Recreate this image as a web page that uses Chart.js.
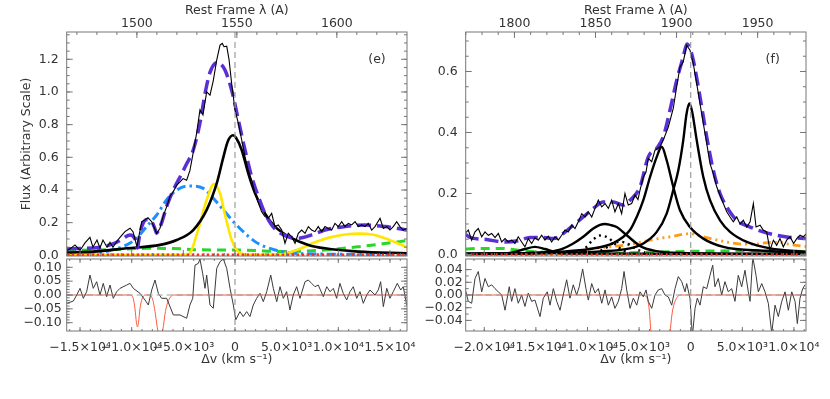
<!DOCTYPE html>
<html>
<head>
<meta charset="utf-8">
<script src="https://cdn.jsdelivr.net/npm/chart.js@4.4.1/dist/chart.umd.min.js"></script>
<style>
  html, body { margin: 0; padding: 0; background: #fff; }
  #wrap { position: relative; width: 830px; height: 399px; overflow: hidden; }
  canvas { position: absolute; }
</style>
</head>
<body>
<div id="wrap">
  <canvas id="upE" width="428" height="260" style="left:0px;top:0px"></canvas>
  <canvas id="loE" width="428" height="143" style="left:0px;top:256px"></canvas>
  <canvas id="upF" width="415" height="260" style="left:415px;top:0px"></canvas>
  <canvas id="loF" width="415" height="143" style="left:415px;top:256px"></canvas>
</div>
<script>
const C_KMS = 299792.458;
const FONT = { family: "DejaVu Sans", size: 12.5 };
const TXT = "#333";

// ---------- panel (e) : C IV ----------
const lam0E = 1549.06;
const vRangeE = [-16290, 16650];
const fluxRangeE = [-0.004, 1.367];
const resRangeE = [-0.13, 0.13];
const lamTicksE = [1500, 1550, 1600];
const vTicksE = [-15000, -10000, -5000, 0, 5000, 10000, 15000];
const fluxTicksE = [0, 0.2, 0.4, 0.6, 0.8, 1.0, 1.2];
const resTicksE = [-0.1, -0.05, 0, 0.05, 0.1];

const obsVE = [-16260,-15970,-15490,-15000,-14520,-14040,-13750,-13360,-13070,-12780,
  -12390,-12100,-11810,-11420,-11130,-10650,-10160,-9870,-9490,-9030,
  -8710,-8420,-8060,-7580,-7260,-6970,-6610,-6290,-5970,-5640,
  -5320,-5030,-4680,-4360,-4040,-3710,-3390,-3100,-2740,-2420,
  -2100,-1770,-1450,-1230,-1060,-800,-580,-320,0,320,
  650,970,1290,1620,1940,2260,2580,2900,3220,3550,
  3870,4190,4520,4840,5160,5490,5810,6130,6460,6780,
  7100,7420,7740,8060,8390,8710,9030,9360,9680,10000,
  10330,10650,10970,11300,11620,11940,12270,12580,12900,13230,
  13550,14040,14360,14690,15000,15320,15650,15970,16290,16620];
const obsFE = [0.03,0.04,0.064,0.03,0.076,0.11,0.05,0.094,0.045,0.094,
  0.05,0.08,0.05,0.088,0.11,0.145,0.166,0.145,0.053,0.206,
  0.217,0.23,0.206,0.135,0.166,0.237,0.298,0.36,0.39,0.43,
  0.45,0.47,0.46,0.52,0.63,0.75,0.89,0.86,1.0,0.98,
  1.07,1.195,1.287,1.297,1.277,1.28,1.2,1.05,0.89,0.81,
  0.706,0.604,0.52,0.46,0.38,0.32,0.267,0.237,0.227,0.257,
  0.176,0.186,0.155,0.074,0.135,0.114,0.074,0.135,0.155,0.135,
  0.176,0.155,0.145,0.176,0.145,0.176,0.165,0.155,0.196,0.176,
  0.206,0.176,0.196,0.186,0.206,0.176,0.186,0.176,0.196,0.155,
  0.176,0.227,0.165,0.176,0.155,0.176,0.206,0.176,0.155,0.165];

const totVE = [-16260,-13070,-12100,-11450,-10810,-10160,-9680,-9460,-9240,-9030,
  -8550,-8060,-7790,-7580,-7360,-7100,-6610,-5970,-5320,-4680,
  -4040,-3390,-2900,-2420,-1940,-1700,-1450,-970,-320,320,
  970,1620,2260,2900,3550,4190,5160,6130,7420,8710,
  10650,12580,14520,16650];
const totFE = [0.04,0.05,0.064,0.08,0.105,0.125,0.1,0.045,0.12,0.176,
  0.22,0.206,0.17,0.135,0.16,0.2,0.3,0.4,0.48,0.56,
  0.645,0.81,0.99,1.12,1.175,1.18,1.175,1.134,1.01,0.83,
  0.645,0.48,0.36,0.257,0.186,0.145,0.114,0.105,0.125,0.155,
  0.176,0.186,0.176,0.155];

const civVE = [-16260,-13720,-10480,-7260,-5640,-4040,-2740,-1770,-1130,-680,
  -190,100,650,1290,1940,2900,3870,5490,7100,8710,11940,16650];
const civFE = [0.017,0.023,0.043,0.064,0.094,0.155,0.278,0.44,0.6,0.70,
  0.735,0.72,0.645,0.50,0.38,0.257,0.176,0.105,0.064,0.043,0.023,0.013];

const broadVE = [-16260,-14040,-12100,-10480,-9520,-8550,-7580,-6610,-5640,-4680,
  -4040,-3070,-2100,-1130,0,970,1940,2900,3870,4840,6290,16650];
const broadFE = [0.005,0.008,0.03,0.064,0.105,0.176,0.247,0.34,0.40,0.424,
  0.424,0.41,0.35,0.278,0.196,0.135,0.084,0.053,0.033,0.02,0.01,0.005];

const yelVE = [-16260,-5500,-4520,-4200,-3390,-2740,-2030,-1450,-970,-320,
  160,650,1500,3500,4840,6290,7740,9200,10650,12100,
  13260,14520,15490,16650];
const yelFE = [0.003,0.003,0.005,0.033,0.196,0.34,0.437,0.38,0.25,0.094,
  0.033,0.01,0.004,0.004,0.01,0.04,0.08,0.11,0.128,0.133,
  0.128,0.105,0.08,0.05];

const grnVE = [-16260,-12000,-8500,-6000,-4000,-2000,0,2000,4000,5500,
  8700,12000,14500,16650];
const grnFE = [0.03,0.035,0.043,0.042,0.035,0.033,0.033,0.03,0.024,0.024,
  0.033,0.053,0.072,0.09];

const zeroVE = [-16290, 16650];
const zeroFE = [0, 0];

const resVE = [-16290,-15650,-15320,-15000,-14680,-14360,-14040,-13720,-13390,-13070,
  -12750,-12420,-12100,-11780,-11450,-11130,-10480,-10160,-9840,-9200,
  -8710,-8390,-8060,-7740,-7420,-7100,-6610,-5970,-5320,-4680,
  -4360,-4090,-3870,-3550,-3390,-3130,-2900,-2740,-2420,-2100,
  -1770,-1450,-1130,-800,-480,-160,70,480,800,1130,
  1450,1770,2100,2420,2740,3070,3460,3710,4040,4360,
  4680,5000,5320,5640,5970,6290,6780,7100,7420,7740,
  8060,8550,8880,9200,9520,9840,10160,10480,10810,11130,
  11450,11780,12100,12420,12750,13070,13550,13870,14100,14360,
  14690,15000,15320,15710,16040,16290,16620];
const resFE = [-0.03,-0.022,0,0.024,-0.012,0.012,0.072,0.024,0.048,0,
  0.042,-0.006,0.036,-0.012,0.012,0.024,0.036,0.042,0.024,0.006,
  -0.018,-0.036,0.018,0.054,0.006,-0.012,-0.012,-0.072,-0.072,-0.084,
  -0.036,-0.012,0.108,0.114,0.13,0.078,0.024,0.072,-0.036,-0.048,
  0.096,0.12,0.13,0.096,0.024,-0.036,-0.09,-0.06,-0.078,-0.06,
  -0.078,-0.036,-0.012,0.006,-0.024,0.012,0.072,0.024,-0.024,0.03,
  -0.012,0.012,-0.054,0,0.03,-0.012,0.048,0.054,0.042,0.03,
  0.036,-0.006,0.03,0.012,0.024,-0.012,0.042,0.006,-0.018,0.012,
  0.03,-0.012,0.012,-0.03,0,0.018,0,0.018,0.048,-0.042,
  0.024,-0.012,0.012,0.042,0.018,0.03,-0.036];

const absVE = [-16290,-10160,-9870,-9680,-9540,-9440,-9340,-9200,-9000,-8710,
  -8230,-7940,-7740,-7550,-7410,-7260,-7070,-6920,-6780,-6580,
  -6290,-5970,16620];
const absFE = [0,0,-0.01,-0.05,-0.10,-0.115,-0.10,-0.05,-0.015,0,
  0,-0.02,-0.06,-0.11,-0.14,-0.16,-0.14,-0.11,-0.07,-0.035,
  -0.01,0,0];

// ---------- panel (f) : C III] ----------
const lam0F = 1908.73;
const vRangeF = [-21800, 11170];
const fluxRangeF = [-0.005, 0.7295];
const resRangeF = [-0.0567, 0.0567];
const lamTicksF = [1800, 1850, 1900, 1950];
const vTicksF = [-20000, -15000, -10000, -5000, 0, 5000, 10000];
const fluxTicksF = [0, 0.2, 0.4, 0.6];
const resTicksF = [-0.04, -0.02, 0, 0.02, 0.04];

const obsVF = [-21870,-21550,-21220,-20900,-20580,-20250,-19930,-19610,-19280,-18960,
  -18640,-18310,-17990,-17670,-17350,-17030,-16710,-16380,-16060,-15740,
  -15410,-15090,-14770,-14440,-14120,-13800,-13470,-13150,-12830,-12500,
  -12180,-11860,-11530,-11210,-10890,-10560,-10240,-9920,-9590,-9270,
  -8950,-8620,-8300,-7980,-7660,-7340,-7010,-6690,-6370,-6050,
  -5720,-5400,-5110,-4910,-4590,-4330,-4110,-3780,-3460,-2970,
  -2660,-2170,-1690,-1360,-1040,-720,-390,-70,250,580,
  900,1220,1550,1870,2190,2520,2840,3160,3490,3810,
  4130,4460,4780,5100,5430,5750,6070,6330,6720,7030,
  7360,7680,8010,8330,8650,8970,9300,9620,9970,10270,
  10590,10910,11240];
const obsFF = [0.069,0.08,0.047,0.074,0.085,0.058,0.074,0.063,0.069,0.055,
  0.069,0.041,0.052,0.041,0.047,0.036,0.058,0.041,0.025,0.052,
  0.036,0.055,0.047,0.063,0.047,0.06,0.041,0.058,0.047,0.063,
  0.08,0.074,0.096,0.085,0.107,0.134,0.123,0.14,0.123,0.151,
  0.178,0.156,0.167,0.151,0.178,0.14,0.167,0.134,0.2,0.162,
  0.167,0.195,0.18,0.211,0.254,0.27,0.315,0.304,0.342,0.353,
  0.375,0.418,0.479,0.55,0.615,0.632,0.686,0.67,0.626,0.56,
  0.495,0.43,0.364,0.298,0.265,0.222,0.194,0.167,0.14,0.123,
  0.107,0.123,0.1,0.112,0.09,0.107,0.167,0.09,0.096,0.08,
  0.074,0.014,0.047,0.03,0.052,0.025,0.047,0.058,0.036,0.052,
  0.063,0.058,0.069];

const totVF = [-21800,-21390,-19770,-18160,-16710,-15570,-14280,-13310,-12350,-11380,
  -10410,-9440,-8470,-7500,-6530,-5880,-4910,-4110,-3290,-2660,
  -2010,-1360,-720,-360,-70,250,900,1550,2190,2840,
  3490,4460,5750,7030,8330,9620,11240];
const totFF = [0.066,0.056,0.049,0.041,0.045,0.056,0.056,0.052,0.069,0.096,
  0.123,0.151,0.172,0.172,0.162,0.178,0.222,0.32,0.348,0.386,
  0.473,0.571,0.648,0.69,0.675,0.637,0.517,0.386,0.276,0.2,
  0.156,0.112,0.09,0.074,0.063,0.056,0.052];

const ciiiVF = [-21800,-12660,-8790,-5880,-4590,-3290,-2330,-1690,-1200,-720,
  -410,-140,130,580,1220,1870,2840,3810,5430,7680,11240];
const ciiiFF = [0.002,0.005,0.01,0.02,0.036,0.074,0.134,0.211,0.276,0.375,
  0.46,0.495,0.47,0.375,0.254,0.178,0.112,0.074,0.041,0.02,0.009];

const siiiiVF = [-21800,-15570,-12660,-9760,-7530,-5880,-5230,-4590,-3940,-3290,
  -2810,-2330,-1690,-1040,-70,1220,3160,7030,11240];
const siiiiFF = [0.003,0.005,0.009,0.018,0.037,0.08,0.123,0.178,0.254,0.32,
  0.353,0.309,0.222,0.145,0.09,0.052,0.025,0.012,0.006];

const aliiiVF = [-21800,-14280,-12660,-11380,-10410,-9440,-8790,-8300,-7820,-7170,
  -6200,-4750,-3460,-1040,11240];
const aliiiFF = [0.002,0.007,0.016,0.036,0.058,0.085,0.097,0.1,0.097,0.09,
  0.063,0.025,0.012,0.005,0.002];

const siiiVF = [-21800,-17990,-17030,-16060,-15090,-14120,-13150,-12180,11240];
const siiiFF = [0.001,0.003,0.008,0.018,0.025,0.018,0.008,0.003,0.001];

const dot1VF = [-11210,-10240,-9560,-8790,-8010,-7340,-6660,-5880];
const dot1FF = [0.005,0.02,0.045,0.062,0.055,0.035,0.015,0.005];
const dot2VF = [-9270,-8300,-7630,-6850,-6080,-5300,-4430];
const dot2FF = [0.005,0.02,0.035,0.042,0.035,0.018,0.006];

const feVF = [-21800,-12660,-11530,-9760,-7330,-5880,-3940,-2010,-70,1550,
  3160,5100,6230,7200,8460,9620,11240];
const feFF = [0.0,0.002,0.008,0.018,0.027,0.033,0.047,0.058,0.068,0.055,
  0.043,0.034,0.034,0.038,0.04,0.033,0.026];

const grnVF = [-21800,-20420,-18480,-16540,-14600,-11700,-6850,-2980,900,5750,11240];
const grnFF = [0.018,0.02,0.02,0.013,0.008,0.005,0.005,0.008,0.011,0.012,0.01];

const zeroVF = [-21800, 11170];
const zeroFF = [0, 0];

const resVF = [-21870,-21550,-21220,-20900,-20580,-20250,-19930,-19610,-19280,-18960,
  -18640,-18310,-17990,-17580,-17350,-17030,-16710,-16380,-16060,-15740,
  -15410,-15090,-14600,-14280,-13900,-13630,-13310,-12980,-12660,-12350,
  -12020,-11700,-11380,-11050,-10800,-10470,-10150,-9920,-9590,-9270,
  -8950,-8620,-8300,-7980,-7660,-7340,-7010,-6690,-6460,-6200,
  -5880,-5560,-5230,-4910,-4590,-4330,-4110,-3780,-3460,-3140,
  -2810,-2490,-2170,-1840,-1520,-1200,-870,-550,-390,-70,
  160,420,640,900,1220,1550,1870,2130,2350,2670,
  3000,3320,3640,3970,4290,4610,4940,5260,5580,5750,
  6010,6330,6550,6880,7200,7520,7850,8170,8490,8820,
  9140,9460,9790,10110,10330,10590,10850,11080];
const resFF = [0.011,-0.01,-0.013,0.026,0.037,0.005,0.026,0.013,0.016,0.01,
  0.005,0,-0.024,0.013,-0.01,0.01,-0.013,0,-0.018,0.003,
  -0.01,-0.008,-0.034,-0.005,0.005,-0.016,0.01,-0.01,-0.024,0,
  0.024,-0.005,0.016,0,0.013,0.041,0.01,-0.008,0.018,0.003,
  0.01,-0.013,0.008,-0.016,-0.003,-0.021,-0.01,0.01,0.037,0.008,
  -0.021,-0.005,-0.016,0.005,-0.003,0.008,-0.01,-0.021,0,0.008,
  0.01,0,-0.003,-0.016,0.01,0.029,0.021,0.005,0.018,-0.005,
  -0.065,-0.021,-0.005,-0.016,0.013,0.01,0.031,0.047,0.013,0.026,
  0,0.021,0.005,0.01,-0.01,0.031,0.013,0.039,0.005,-0.01,
  0.06,0.031,0.005,0.018,0.005,-0.013,-0.06,-0.016,-0.034,-0.01,
  0.005,-0.024,0.005,-0.01,-0.045,-0.005,0.01,0.016];

const absVF = [-21800,-4910,-4330,-4040,-3850,-3650,-2970,-2300,-2010,-1810,
  -1620,-1330,-1040,11240];
const absFF = [0,0,-0.002,-0.02,-0.06,-0.1,-0.15,-0.1,-0.06,-0.03,
  -0.015,-0.004,0,0];

// ---------- helpers ----------
function steps(a, b, st) {
  const out = [];
  for (let v = a; v <= b + st * 1e-6; v += st) out.push(Math.round(v / st) * st);
  return out;
}
function minus(s) { return s.replace('-', '\u2212'); }
function sciLabel(v) {
  if (v === 0) return '0';
  const a = Math.abs(v);
  const e = Math.floor(Math.log10(a));
  const sup = { 3: '\u00b3', 4: '\u2074' }[e];
  return (v < 0 ? '\u2212' : '') + (a / Math.pow(10, e)).toFixed(1) + '\u00d710' + sup;
}
function line(vs, fs, color, width, dash, smooth) {
  return {
    data: vs.map((v, i) => ({ x: v, y: fs[i] })),
    borderColor: color, borderWidth: width, borderDash: dash || [],
    pointRadius: 0, fill: false, tension: 0,
    cubicInterpolationMode: smooth ? 'monotone' : 'default'
  };
}
const noPad = s => { s.paddingLeft = 0; s.paddingRight = 0; s.paddingTop = 0; s.paddingBottom = 0; };

// frame, inward ticks, dashed zero guides and the panel tag
const idl = {
  id: 'idl',
  afterDatasetsDraw(chart, args, o) {
    const { ctx, chartArea: a, scales } = chart;
    ctx.save();
    ctx.beginPath(); ctx.rect(a.left, a.top, a.width, a.height); ctx.clip();
    ctx.strokeStyle = '#9c9c9c'; ctx.lineWidth = 1.2; ctx.setLineDash([6, 4]);
    ctx.beginPath();
    const x0 = scales.x.getPixelForValue(0);
    ctx.moveTo(x0, a.top); ctx.lineTo(x0, a.bottom);
    if (o.zeroLine) {
      const y0 = scales.y.getPixelForValue(0);
      ctx.moveTo(a.left, y0); ctx.lineTo(a.right, y0);
    }
    ctx.stroke();
    ctx.restore();
  },
  afterDraw(chart, args, o) {
    const { ctx, chartArea: a, scales } = chart;
    ctx.save();
    ctx.strokeStyle = '#777'; ctx.lineWidth = 1;
    ctx.strokeRect(a.left, a.top, a.width, a.height);
    (o.marks || []).forEach(m => {
      const s = scales[m.scale];
      ctx.beginPath();
      m.values.forEach(v => {
        const p = s.getPixelForValue(v);
        if (s.isHorizontal()) {
          if (p < a.left || p > a.right) return;
          m.sides.forEach(side => {
            const y = side === 'top' ? a.top : a.bottom;
            ctx.moveTo(p, y); ctx.lineTo(p, side === 'top' ? y + m.len : y - m.len);
          });
        } else {
          if (p < a.top || p > a.bottom) return;
          m.sides.forEach(side => {
            const x = side === 'left' ? a.left : a.right;
            ctx.moveTo(x, p); ctx.lineTo(side === 'left' ? x + m.len : x - m.len, p);
          });
        }
      });
      ctx.stroke();
    });
    if (o.tag) {
      ctx.fillStyle = TXT;
      ctx.font = FONT.size + 'px "' + FONT.family + '"';
      ctx.textAlign = 'center'; ctx.textBaseline = 'middle';
      ctx.fillText(o.tag.text, o.tag.x, o.tag.y);
    }
    ctx.restore();
  }
};

function upper(id, p) {
  const lamMin = p.lam0 * (1 + p.vRange[0] / C_KMS);
  const lamMax = p.lam0 * (1 + p.vRange[1] / C_KMS);
  return new Chart(document.getElementById(id), {
    type: 'line',
    data: { datasets: p.datasets },
    options: {
      responsive: false, animation: false, events: [],
      layout: { padding: { left: 0, top: 0, right: p.padRight, bottom: 4 } },
      plugins: {
        legend: { display: false }, tooltip: { enabled: false },
        idl: {
          tag: p.tag,
          marks: [
            { scale: 'xt', values: p.lamTicks, len: 6, sides: ['top'] },
            { scale: 'xt', values: steps(Math.ceil(lamMin / 10) * 10, lamMax, 10), len: 3, sides: ['top'] },
            { scale: 'x', values: p.vTicks, len: 6, sides: ['bottom'] },
            { scale: 'x', values: steps(Math.ceil(p.vRange[0] / 1000) * 1000, p.vRange[1], 1000), len: 3, sides: ['bottom'] },
            { scale: 'y', values: p.fluxTicks, len: 6, sides: ['left', 'right'] },
            { scale: 'y', values: steps(0, p.fluxRange[1], 0.05), len: 3, sides: ['left', 'right'] }
          ]
        }
      },
      scales: {
        x: { type: 'linear', min: p.vRange[0], max: p.vRange[1], display: false },
        xt: {
          type: 'linear', position: 'top', min: lamMin, max: lamMax,
          grid: { display: false, drawTicks: false }, border: { display: false },
          afterBuildTicks: s => { s.ticks = p.lamTicks.map(v => ({ value: v })); },
          afterFit: s => { s.height = 32; noPad(s); },
          ticks: { font: FONT, color: TXT, padding: 1, maxRotation: 0, minRotation: 0, autoSkip: false,
                   callback: v => String(v) },
          title: { display: true, text: 'Rest Frame \u03bb (A)', font: FONT, color: TXT, padding: { top: 3.5, bottom: 0 } }
        },
        y: {
          type: 'linear', position: 'left', min: p.fluxRange[0], max: p.fluxRange[1],
          grid: { display: false, drawTicks: false }, border: { display: false },
          afterBuildTicks: s => { s.ticks = p.fluxTicks.map(v => ({ value: v })); },
          afterFit: s => { s.width = p.axisW; noPad(s); },
          ticks: { font: FONT, color: TXT, padding: 8, autoSkip: false, callback: v => v.toFixed(1) },
          title: { display: !!p.yTitle, text: p.yTitle || '', font: FONT, color: TXT, padding: { top: 19.5, bottom: 0 } }
        }
      }
    },
    plugins: [idl]
  });
}

function lower(id, p) {
  return new Chart(document.getElementById(id), {
    type: 'line',
    data: { datasets: p.datasets },
    options: {
      responsive: false, animation: false, events: [],
      layout: { padding: { left: 0, top: 3, right: p.padRight, bottom: 0 } },
      plugins: {
        legend: { display: false }, tooltip: { enabled: false },
        idl: {
          zeroLine: true,
          marks: [
            { scale: 'x', values: p.vTicks, len: 4, sides: ['top', 'bottom'] },
            { scale: 'x', values: steps(Math.ceil(p.vRange[0] / 1000) * 1000, p.vRange[1], 1000), len: 2, sides: ['top', 'bottom'] },
            { scale: 'y', values: p.resTicks, len: 6, sides: ['left', 'right'] },
            { scale: 'y', values: steps(p.resTicks[0], p.resTicks[p.resTicks.length - 1], p.resMinor), len: 3, sides: ['left', 'right'] }
          ]
        }
      },
      scales: {
        x: {
          type: 'linear', position: 'bottom', min: p.vRange[0], max: p.vRange[1],
          grid: { display: false, drawTicks: false }, border: { display: false },
          afterBuildTicks: s => { s.ticks = p.vTicks.map(v => ({ value: v })); },
          afterFit: s => { s.height = 68; noPad(s); },
          ticks: { font: FONT, color: TXT, padding: 9, maxRotation: 0, minRotation: 0, autoSkip: false,
                   callback: v => sciLabel(v) },
          title: { display: true, text: '\u0394v (km s\u207b\u00b9)', font: FONT, color: TXT, padding: { top: 0, bottom: 32 } }
        },
        y: {
          type: 'linear', position: 'left', min: p.resRange[0], max: p.resRange[1],
          grid: { display: false, drawTicks: false }, border: { display: false },
          afterBuildTicks: s => { s.ticks = p.resTicks.map(v => ({ value: v })); },
          afterFit: s => { s.width = p.axisW; noPad(s); },
          ticks: { font: FONT, color: TXT, padding: p.labPad, autoSkip: false,
                   callback: v => minus((Math.abs(v) < 1e-9 ? 0 : v).toFixed(2)) }
        }
      }
    },
    plugins: [idl]
  });
}

const PURPLE = '#5a30d6', BLUE = '#1e8fff', YELLOW = '#ffe600', GREEN = '#2bd62b',
      ORANGE = '#ff9a1a', RED = '#ff2a1a', RES = '#3a3a3a', RESMOD = '#ff5a3c';

upper('upE', {
  lam0: lam0E, vRange: vRangeE, fluxRange: fluxRangeE, lamTicks: lamTicksE, vTicks: vTicksE,
  fluxTicks: fluxTicksE, axisW: 66.7, padRight: 21, yTitle: 'Flux (Arbitrary Scale)',
  tag: { text: '(e)', x: 377, y: 60 },
  datasets: [
    line(zeroVE, zeroFE, RED, 3.5, [2.5, 2.5]),
    line(obsVE, obsFE, '#000', 1.1),
    line(totVE, totFE, PURPLE, 3.5, [14, 6], true),
    line(civVE, civFE, '#000', 2.6, [], true),
    line(yelVE, yelFE, YELLOW, 2.6, [], true),
    line(broadVE, broadFE, BLUE, 3, [9, 4, 2.5, 4], true),
    line(grnVE, grnFE, GREEN, 3, [9, 6], true)
  ]
});
lower('loE', {
  vRange: vRangeE, vTicks: vTicksE, resRange: resRangeE, resTicks: resTicksE, resMinor: 0.01,
  axisW: 66.7, padRight: 21, labPad: 5,
  datasets: [
    line(resVE, resFE, RES, 1),
    line(absVE, absFE, RESMOD, 1, [], true)
  ]
});
upper('upF', {
  lam0: lam0F, vRange: vRangeF, fluxRange: fluxRangeF, lamTicks: lamTicksF, vTicks: vTicksF,
  fluxTicks: fluxTicksF, axisW: 50.7, padRight: 24, yTitle: null,
  tag: { text: '(f)', x: 357.7, y: 60 },
  datasets: [
    line(zeroVF, zeroFF, RED, 2.5, [2, 3]),
    line(obsVF, obsFF, '#000', 1.1),
    line(totVF, totFF, PURPLE, 3.5, [14, 6], true),
    line(ciiiVF, ciiiFF, '#000', 2.4, [], true),
    line(siiiiVF, siiiiFF, '#000', 2.4, [], true),
    line(aliiiVF, aliiiFF, '#000', 2.4, [], true),
    line(siiiVF, siiiFF, '#000', 2.4, [], true),
    line(dot1VF, dot1FF, '#000', 2.4, [2, 4], true),
    line(dot2VF, dot2FF, '#000', 2.4, [2, 4], true),
    line(feVF, feFF, ORANGE, 2.8, [8, 4, 2, 4, 2, 4, 2, 4], true),
    line(grnVF, grnFF, GREEN, 3, [9, 6], true)
  ]
});
lower('loF', {
  vRange: vRangeF, vTicks: vTicksF, resRange: resRangeF, resTicks: resTicksF, resMinor: 0.01,
  axisW: 50.7, padRight: 24, labPad: 3,
  datasets: [
    line(resVF, resFF, RES, 1),
    line(absVF, absFF, RESMOD, 1, [], true)
  ]
});
</script>
</body>
</html>
